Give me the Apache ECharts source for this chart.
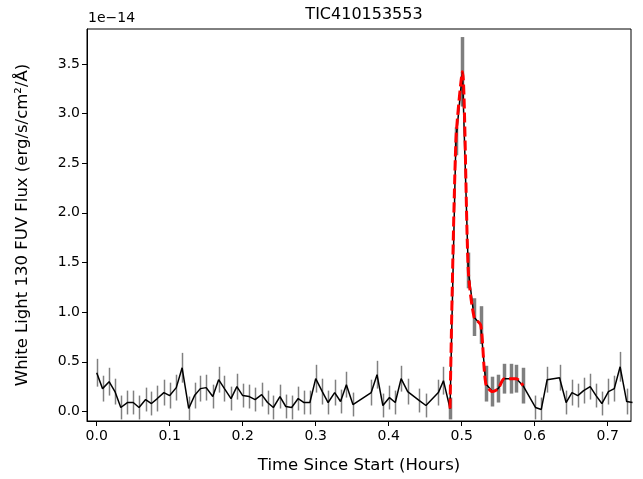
<!DOCTYPE html>
<html>
<head>
<meta charset="utf-8">
<script src="https://cdn.jsdelivr.net/npm/echarts@6/dist/echarts.min.js"></script>
<style>
  html, body { margin: 0; padding: 0; background: #fff; }
  #chart { width: 643px; height: 479px; }
</style>
</head>
<body>
<div id="chart"></div>
<script>
// light curve, flux in units of 1e-14
const time = [
  0.000, 0.008, 0.017, 0.025, 0.033, 0.042, 0.050, 0.058, 0.067, 0.075, 0.083, 0.092, 0.100, 0.109,
  0.117, 0.126, 0.134, 0.142, 0.150, 0.159, 0.167, 0.175, 0.184, 0.192, 0.200, 0.209, 0.217, 0.226,
  0.234, 0.242, 0.251, 0.259, 0.267, 0.276, 0.284, 0.292, 0.300, 0.309, 0.317, 0.326, 0.334, 0.342, 0.351,
  0.376, 0.384, 0.392, 0.401, 0.409, 0.417, 0.426, 0.442, 0.451, 0.468, 0.475,
  0.484, 0.492, 0.501, 0.509, 0.517, 0.526, 0.533, 0.542, 0.550, 0.558, 0.567, 0.575, 0.584,
  0.601, 0.609, 0.617, 0.634, 0.643, 0.651, 0.659, 0.667, 0.676, 0.684, 0.692, 0.701, 0.709, 0.717, 0.726, 0.734
];
const flux = [
  0.39, 0.23, 0.30, 0.20, 0.04, 0.09, 0.09, 0.04, 0.12, 0.08, 0.13, 0.19, 0.16, 0.24,
  0.44, 0.03, 0.16, 0.23, 0.24, 0.15, 0.32, 0.23, 0.13, 0.25, 0.16, 0.15, 0.12, 0.17,
  0.09, 0.04, 0.15, 0.05, 0.04, 0.13, 0.09, 0.09, 0.33, 0.20, 0.09, 0.19, 0.10, 0.27, 0.07,
  0.19, 0.37, 0.06, 0.14, 0.09, 0.33, 0.20, 0.11, 0.06, 0.19, 0.31,
  0.03, 2.72, 3.42, 1.42, 0.95, 0.87, 0.28, 0.20, 0.23, 0.33, 0.33, 0.33, 0.26,
  0.04, 0.02, 0.32, 0.34, 0.09, 0.19, 0.16, 0.21, 0.25, 0.16, 0.08, 0.20, 0.23, 0.45, 0.10, 0.09
];
const fluxErr = [
  0.14, 0.13, 0.14, 0.13, 0.12, 0.12, 0.12, 0.12, 0.12, 0.12, 0.13, 0.13, 0.13, 0.13,
  0.15, 0.12, 0.13, 0.13, 0.13, 0.12, 0.13, 0.13, 0.12, 0.13, 0.12, 0.12, 0.12, 0.12,
  0.12, 0.12, 0.12, 0.12, 0.12, 0.12, 0.12, 0.12, 0.14, 0.13, 0.12, 0.13, 0.12, 0.13, 0.12,
  0.13, 0.14, 0.12, 0.12, 0.12, 0.13, 0.13, 0.12, 0.12, 0.13, 0.14,
  0.11, 0.14, 0.35, 0.18, 0.19, 0.19, 0.18, 0.15, 0.14, 0.15, 0.15, 0.14, 0.18,
  0.12, 0.12, 0.13, 0.13, 0.12, 0.13, 0.12, 0.13, 0.13, 0.12, 0.12, 0.13, 0.13, 0.15, 0.13, 0.13
];
// flare window (hours)
const flareStart = 0.48;
const flareEnd = 0.59;

const xTicks = [0.0, 0.1, 0.2, 0.3, 0.4, 0.5, 0.6, 0.7];
const yTicks = [0.0, 0.5, 1.0, 1.5, 2.0, 2.5, 3.0, 3.5];

const chart = echarts.init(document.getElementById("chart"));

const inFlare = (t) => t >= flareStart && t <= flareEnd;
const points = time.map((t, i) => [t, flux[i]]);
const quiet = [];
const flare = [];
time.forEach((t, i) => {
  const row = [t, flux[i] - fluxErr[i], flux[i] + fluxErr[i]];
  if (inFlare(t)) flare.push(row); else quiet.push(row);
});
const flarePoints = points.filter((p) => inFlare(p[0]));

function errorBars(color, width) {
  return function (params, api) {
    const top = api.coord([api.value(0), api.value(2)]);
    const bot = api.coord([api.value(0), api.value(1)]);
    const x = Math.round(top[0]) + 0.5;
    return {
      type: "line",
      shape: { x1: x, y1: top[1], x2: x, y2: bot[1] },
      style: { stroke: color, lineWidth: width },
    };
  };
}

const font = "DejaVu Sans";

const options = {
  animation: false,
  textStyle: { fontFamily: font },
  title: {
    text: "TIC410153553",
    left: 359,
    textAlign: "center",
    top: 2,
    textStyle: { fontFamily: font, fontSize: 16, fontWeight: "normal", color: "#000" },
  },
  graphic: [
    {
      type: "text",
      left: 88,
      top: 11,
      style: { text: "1e\u221214", font: "14px DejaVu Sans", fill: "#000" },
    },
  ],
  grid: {
    left: 87,
    right: 12,
    top: 29,
    bottom: 58,
    show: true,
    borderColor: "#000",
    borderWidth: 1,
  },
  xAxis: {
    type: "value",
    min: -0.0133,
    max: 0.7319,
    name: "Time Since Start (Hours)",
    nameLocation: "middle",
    nameGap: 36,
    nameTextStyle: { fontFamily: font, fontSize: 16.5, color: "#000" },
    splitLine: { show: false },
    axisLine: { show: true, onZero: false, lineStyle: { color: "#000", width: 1 } },
    axisTick: { show: true, length: 5, customValues: xTicks, lineStyle: { color: "#000" } },
    axisLabel: {
      customValues: xTicks,
      formatter: (v) => v.toFixed(1),
      fontFamily: font,
      fontSize: 14,
      color: "#000",
      margin: 8,
    },
  },
  yAxis: {
    type: "value",
    min: -0.096,
    max: 3.851,
    name: "White Light 130 FUV Flux (erg/s/cm\u00b2/\u00c5)",
    nameLocation: "middle",
    nameGap: 56,
    nameTextStyle: { fontFamily: font, fontSize: 16.5, color: "#000" },
    splitLine: { show: false },
    axisLine: { show: true, onZero: false, lineStyle: { color: "#000", width: 1 } },
    axisTick: { show: true, length: 5, customValues: yTicks, lineStyle: { color: "#000" } },
    axisLabel: {
      customValues: yTicks,
      formatter: (v) => v.toFixed(1),
      fontFamily: font,
      fontSize: 14,
      color: "#000",
      margin: 7,
    },
  },
  series: [
    {
      type: "custom",
      renderItem: errorBars("#808080", 1.5),
      data: quiet,
      encode: { x: 0, y: [1, 2] },
      clip: true,
      z: 1,
    },
    {
      type: "custom",
      renderItem: errorBars("#7f7f7f", 3.5),
      data: flare,
      encode: { x: 0, y: [1, 2] },
      clip: true,
      z: 2,
    },
    {
      type: "line",
      data: points,
      showSymbol: false,
      lineStyle: { color: "#000", width: 1.5 },
      z: 3,
    },
    {
      type: "line",
      data: flarePoints,
      showSymbol: false,
      smooth: 0.25,
      lineStyle: { color: "#ff0000", width: 3, type: [10, 4] },
      z: 4,
    },
  ],
};

chart.setOption(options);
window.addEventListener("resize", () => chart.resize());
</script>
</body>
</html>
